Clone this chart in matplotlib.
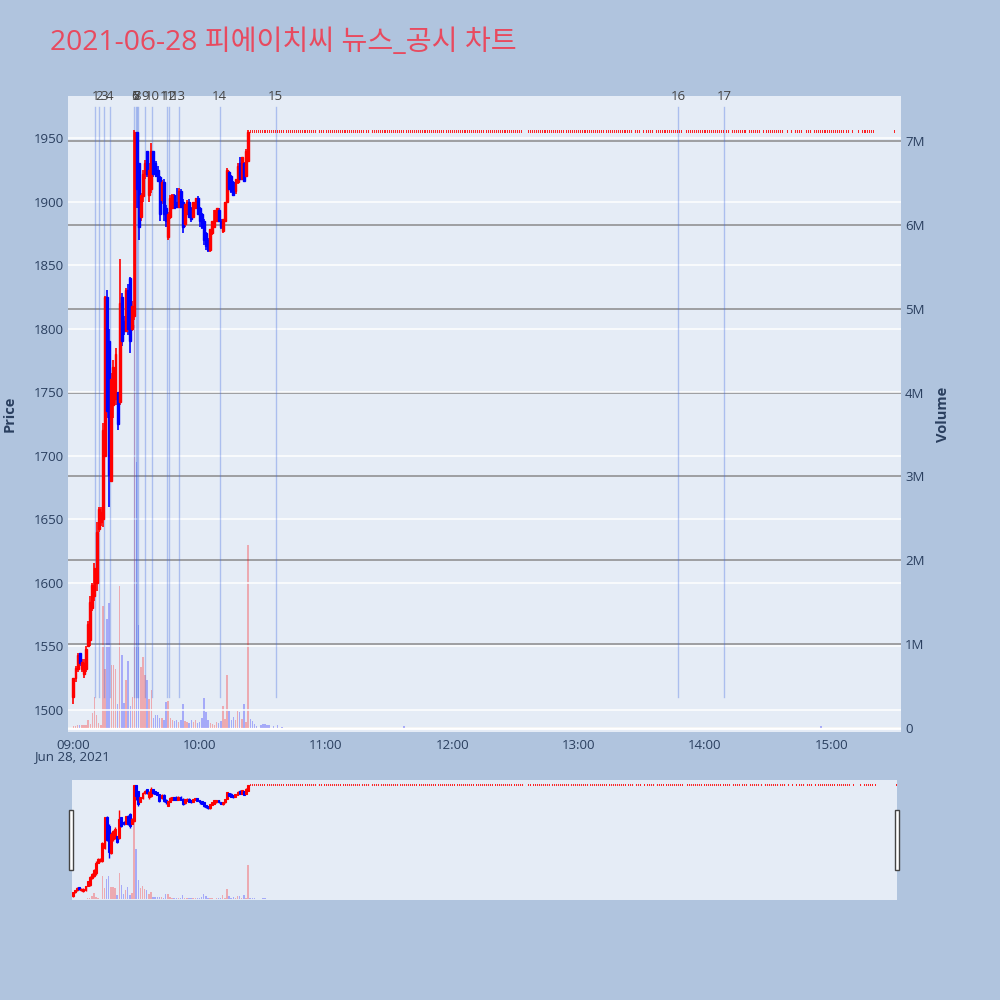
import numpy as np
import matplotlib.pyplot as plt
from matplotlib.patches import Rectangle
import matplotlib.transforms as mtransforms

plt.rcParams['font.family'] = ['Open Sans', 'Noto Sans CJK KR', 'DejaVu Sans']

title = '2021-06-28 피에이치씨 뉴스_공시 차트'

# 09:00 ~ 10:23 1분봉 (시가, 고가, 저가, 종가)
opens = [1510, 1525, 1532, 1545, 1532, 1528, 1532, 1550, 1555, 1580,
         1590, 1600, 1642, 1648, 1650, 1700, 1825, 1790, 1680, 1740,
         1745, 1750, 1742, 1825, 1806, 1798, 1830, 1840, 1800, 1810,
         1955, 1930, 1888, 1904, 1922, 1940, 1905, 1910, 1940, 1930,
         1925, 1919, 1901, 1915, 1895, 1872, 1888, 1895, 1905, 1900,
         1896, 1908, 1900, 1882, 1890, 1900, 1895, 1888, 1895, 1903,
         1895, 1890, 1885, 1875, 1870, 1862, 1875, 1880, 1885, 1893,
         1885, 1877, 1885, 1900, 1923, 1920, 1915, 1908, 1915, 1930,
         1918, 1930, 1920, 1932]
highs = [1525, 1535, 1545, 1545, 1540, 1540, 1550, 1570, 1590, 1600,
         1616, 1648, 1660, 1660, 1726, 1826, 1830, 1800, 1765, 1775,
         1785, 1750, 1855, 1828, 1810, 1832, 1835, 1841, 1822, 1956,
         1955, 1930, 1907, 1925, 1933, 1940, 1930, 1946, 1940, 1932,
         1928, 1920, 1917, 1918, 1897, 1892, 1905, 1906, 1906, 1911,
         1911, 1910, 1902, 1898, 1901, 1902, 1896, 1900, 1903, 1904,
         1896, 1891, 1886, 1876, 1871, 1878, 1885, 1893, 1895, 1895,
         1886, 1886, 1900, 1926, 1924, 1921, 1916, 1918, 1930, 1935,
         1935, 1931, 1941, 1956]
lows = [1505, 1522, 1530, 1535, 1530, 1525, 1530, 1550, 1550, 1578,
        1586, 1594, 1640, 1645, 1644, 1699, 1730, 1660, 1679, 1730,
        1740, 1720, 1740, 1786, 1795, 1797, 1795, 1781, 1798, 1807,
        1895, 1870, 1885, 1900, 1918, 1919, 1900, 1907, 1919, 1919,
        1915, 1885, 1898, 1885, 1880, 1870, 1886, 1894, 1894, 1895,
        1895, 1895, 1875, 1880, 1889, 1887, 1884, 1887, 1894, 1889,
        1880, 1878, 1866, 1862, 1860, 1860, 1874, 1879, 1884, 1884,
        1878, 1875, 1884, 1899, 1909, 1907, 1904, 1906, 1914, 1917,
        1917, 1915, 1919, 1931]
closes = [1525, 1533, 1543, 1537, 1538, 1537, 1548, 1568, 1585, 1598,
          1612, 1640, 1658, 1656, 1720, 1825, 1735, 1685, 1760, 1770,
          1780, 1725, 1820, 1790, 1798, 1830, 1800, 1790, 1818, 1955,
          1910, 1880, 1905, 1922, 1930, 1922, 1925, 1940, 1922, 1920,
          1916, 1890, 1915, 1890, 1885, 1890, 1903, 1905, 1895, 1896,
          1908, 1896, 1880, 1898, 1900, 1888, 1886, 1900, 1903, 1890,
          1885, 1880, 1870, 1865, 1862, 1878, 1885, 1893, 1895, 1885,
          1880, 1886, 1900, 1925, 1910, 1908, 1905, 1918, 1928, 1918,
          1935, 1916, 1940, 1955]
# 거래량 (천주)
volumes = [20, 25, 30, 40, 30, 35, 40, 100, 50, 180,
           370, 150, 60, 40, 1450, 700, 1300, 1490, 750, 750,
           700, 290, 1690, 870, 300, 570, 800, 260, 370, 4800,
           3170, 1230, 730, 850, 630, 570, 350, 450, 120, 150,
           150, 120, 120, 100, 310, 320, 120, 100, 80, 90,
           70, 100, 290, 80, 70, 60, 90, 70, 100, 60,
           70, 120, 360, 190, 90, 60, 50, 40, 70, 60,
           80, 260, 110, 630, 200, 90, 130, 100, 200, 190,
           110, 280, 70, 2180]

# 10:24 이후 상한가(1955) 체결 구간
limit_price = 1955
limit_runs = [('10:24', '10:55'), ('10:57', '11:20'), ('11:22', '11:51'),
              ('11:52', '12:05'), ('12:06', '12:33'), ('12:36', '13:00'),
              ('13:01', '13:15'), ('13:16', '13:22'), ('13:23', '13:25'),
              ('13:27', '13:29'), ('13:31', '13:33'), ('13:34', '13:35'),
              ('13:37', '13:49'), ('13:51', '13:52'), ('13:53', '14:11'),
              ('14:13', '14:19'), ('14:21', '14:26'), ('14:28', '14:37'),
              ('14:39', '14:39'), ('14:41', '14:41'), ('14:43', '14:46'),
              ('14:48', '14:50'), ('14:52', '15:08'), ('15:10', '15:10'),
              ('15:13', '15:13'), ('15:15', '15:20'), ('15:30', '15:30')]
limit_vol_base = 5  # 천주
limit_vols = {'10:24': 110, '10:25': 80, '10:26': 50, '10:27': 20,
              '10:29': 40, '10:30': 50, '10:31': 50, '10:32': 40,
              '10:33': 30, '10:35': 20, '10:37': 30, '10:39': 15,
              '11:37': 20, '14:55': 25}

# 뉴스/공시 시각
news_times = ['09:10:20', '09:12:00', '09:14:40', '09:17:20', '09:29:00',
              '09:29:30', '09:30:00', '09:30:30', '09:34:00', '09:37:30',
              '09:44:36', '09:45:36', '09:50:00', '10:09:30', '10:36:06',
              '13:47:12', '14:09:06']
news_labels = [str(i + 1) for i in range(len(news_times))]


def to_min(t):
    parts = [int(p) for p in t.split(':')]
    m = parts[0] * 60 + parts[1] - 540
    if len(parts) > 2:
        m += parts[2] / 60
    return m


# 데이터 조립
xs = list(range(len(opens)))
o = list(opens); h = list(highs); l = list(lows); c = list(closes)
v = [x * 1000 for x in volumes]
for a, b in limit_runs:
    for m in range(int(to_min(a)), int(to_min(b)) + 1):
        xs.append(m)
        o.append(limit_price); h.append(limit_price)
        l.append(limit_price); c.append(limit_price)
        hhmm = '%02d:%02d' % ((m + 540) // 60, (m + 540) % 60)
        v.append(limit_vols.get(hhmm, limit_vol_base) * 1000)
xs = np.array(xs, dtype=float)
o = np.array(o, float); h = np.array(h, float)
l = np.array(l, float); c = np.array(c, float); v = np.array(v, float)

# 캔들 방향 (시가=종가이면 직전 방향 유지)
dirs = []
prev = 1
for oo, cc in zip(o, c):
    d = 1 if cc > oo else (-1 if cc < oo else prev)
    dirs.append(d)
    prev = d
dirs = np.array(dirs)
candle_col = np.where(dirs > 0, '#ff0000', '#0000ff')
vol_col = np.where(c > o, '#ff0000', '#0000ff')
flat = (h == l)

news_x = [to_min(t) for t in news_times]

BG = '#b0c4de'
PLOT_BG = '#e5ecf6'
TXT = '#2a3f5f'


def draw_candles(ax, wick_lw, body_w, edge_lw, flat_h):
    m = ~flat
    ax.vlines(xs[m], l[m], h[m], colors=candle_col[m], lw=wick_lw, zorder=3)
    ax.bar(xs[m], np.maximum(np.abs(c[m] - o[m]), 0.5), width=body_w,
           bottom=np.minimum(o[m], c[m]), color=candle_col[m],
           edgecolor=candle_col[m], lw=edge_lw, zorder=4)
    # 상한가 점(시가=고가=저가=종가)
    ax.bar(xs[flat], flat_h, width=0.5, bottom=c[flat] - flat_h / 2,
           color=candle_col[flat], lw=0, alpha=0.85, zorder=4)


fig = plt.figure(figsize=(10, 10), dpi=100, facecolor=BG)

# 메인 차트
ax_v = fig.add_axes([0.068, 0.268, 0.833, 0.636], facecolor=PLOT_BG)
ax_p = ax_v.twinx()

ax_v.bar(xs, v, width=0.7, color=vol_col, alpha=0.28, zorder=2)
ax_v.set_ylim(-0.048e6, 7.536e6)
ax_v.set_yticks([i * 1e6 for i in range(8)])
ax_v.set_yticklabels(['0'] + ['%dM' % i for i in range(1, 8)])
ax_v.grid(axis='y', color='#8a8a8a', lw=1.1, zorder=1)
ax_v.axhline(0, color='white', lw=2, zorder=1.5)
ax_v.set_axisbelow(True)
ax_v.yaxis.tick_right()
ax_v.yaxis.set_label_position('right')
ax_v.set_ylabel('Volume', color=TXT, fontsize=10.5, fontweight='bold', labelpad=8)

draw_candles(ax_p, 1.2, 0.9, 1.0, 2.2)
ax_p.set_ylim(1482.7, 1983.0)
ax_p.set_yticks(range(1500, 1951, 50))
ax_p.grid(axis='y', color='white', lw=1.1)
ax_p.set_axisbelow(True)
ax_p.yaxis.tick_left()
ax_p.yaxis.set_label_position('left')
ax_p.set_ylabel('Price', color=TXT, fontsize=10.5, fontweight='bold', labelpad=12)

trans = mtransforms.blended_transform_factory(ax_p.transData, ax_p.transAxes)
for nx, lab in zip(news_x, news_labels):
    ax_p.axvline(nx, ymin=0.055, ymax=0.983, color='#4169e1', alpha=0.35, lw=1, zorder=2)
    ax_p.text(nx, 1.0, lab, transform=trans, ha='center', va='center',
              fontsize=9.5, color='#444444', zorder=5)

ax_v.set_xlim(-2.57, 393.1)
ax_v.set_xticks([i * 60 for i in range(7)])
ax_v.set_xticklabels(['%02d:00' % (9 + i) for i in range(7)])
for a in (ax_v, ax_p):
    a.tick_params(length=0, labelsize=9.5, labelcolor=TXT, pad=3)
    for s in a.spines.values():
        s.set_visible(False)
ax_v.tick_params(axis='x', pad=5)
fig.text(0.072, 1 - 0.757, 'Jun 28, 2021', ha='center', va='center',
         fontsize=9.5, color=TXT)

# 레인지 슬라이더
ax_s = fig.add_axes([0.072, 0.100, 0.825, 0.120], facecolor=PLOT_BG)
ax_s2 = ax_s.twinx()
ax_s.bar(xs, v, width=0.7, color=vol_col, alpha=0.28)
ax_s.set_ylim(-0.048e6, 7.536e6)
draw_candles(ax_s2, 1.0, 0.9, 0.8, 8)
ax_s2.set_ylim(1493, 1975)
ax_s.set_xlim(-0.4, 390.4)
for a in (ax_s, ax_s2):
    a.set_xticks([]); a.set_yticks([])
    for s in a.spines.values():
        s.set_visible(False)

for hx in (0.0693, 0.8953):
    fig.patches.append(Rectangle((hx, 1 - 0.870), 0.0040, 0.060, transform=fig.transFigure,
                                 facecolor='white', edgecolor='#444444', lw=1, zorder=10))

fig.text(0.050, 1 - 0.043, title, ha='left', va='center', fontsize=20.3, color='#e84a5f')

fig.savefig('out.png', dpi=100, facecolor=BG)
